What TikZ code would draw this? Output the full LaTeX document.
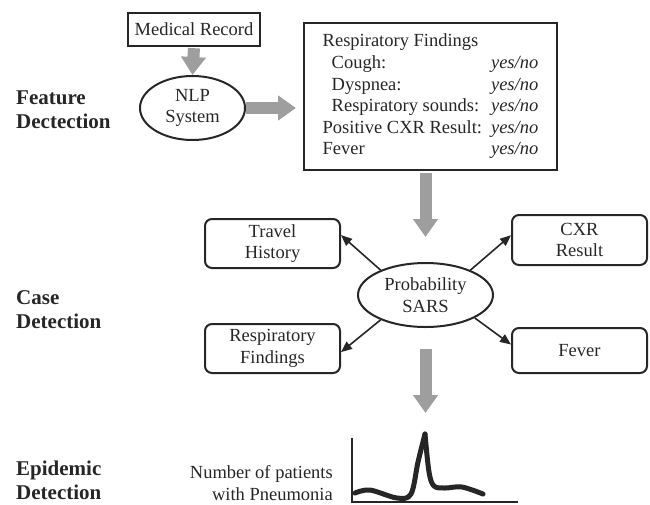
\documentclass[tikz,border=0pt]{standalone}
\usepackage{fontspec}
\setmainfont{Liberation Serif}
\usetikzlibrary{shapes.geometric,arrows.meta}
\definecolor{arrgray}{RGB}{158,158,158}
\begin{document}
\begin{tikzpicture}[x=1pt,y=-1pt,
  every node/.style={font=\fontsize{18.5}{21.6}\selectfont, inner sep=0pt, text=black!85},
  sqbox/.style={draw=black!85, line width=2.4pt, align=center},
  rbox/.style={draw=black!85, line width=2pt, rounded corners=7pt, minimum width=135pt, align=center},
  ovalnode/.style={draw=black!85, line width=2pt, ellipse, align=center},
  stagelabel/.style={font=\fontsize{21}{24}\selectfont\bfseries, align=left, anchor=west},
  bigarrow/.style={draw=arrgray, line width=12pt, -{Triangle[width=24pt,length=18pt]}},
  thinarrow/.style={draw=black!85, line width=1.6pt, -{Triangle[width=9pt,length=11pt]}}
]
\useasboundingbox (0,0) rectangle (650,504);

% stage labels
\node[stagelabel] (lf) at (16,110) {Feature\\Dectection};
\node[stagelabel] (lc) at (16,309.5) {Case\\Detection};
\node[stagelabel] (le) at (16,480) {Epidemic\\Detection};

% feature detection
\node[sqbox, minimum width=132pt, minimum height=33pt] (mr) at (194,29.5) {Medical Record};
\node[ovalnode, minimum width=105pt, minimum height=64pt] (nlp) at (192.5,108) {NLP\\System};
\node[sqbox, line width=2pt, minimum width=253pt, minimum height=147pt] (feat) at (430.5,96.5)
  {\begin{tabular}{@{}l@{\hspace{9pt}}r@{}}
   Respiratory Findings & \\
   \hspace{9pt}Cough: & \textit{yes/no}\\
   \hspace{9pt}Dyspnea: & \textit{yes/no}\\
   \hspace{9pt}Respiratory sounds:\hspace{-6pt} & \textit{yes/no}\hspace{5pt}\\
   Positive CXR Result: & \textit{yes/no}\\
   Fever & \textit{yes/no}
   \end{tabular}};

\draw[bigarrow, shorten <=1pt] (mr.south) -- (nlp.north);
\draw[bigarrow, shorten >=7pt] (nlp.east) -- (feat.west |- nlp.east);

% case detection
\node[ovalnode, minimum width=135pt, minimum height=64pt] (prob) at (425.5,295) {Probability\\SARS};
\node[rbox, minimum height=49pt] (travel) at (272.5,243.5) {Travel\\History};
\node[rbox, minimum height=50pt] (cxr) at (579.5,240) {CXR\\Result};
\node[rbox, minimum height=49pt] (resp) at (272.5,348.5) {Respiratory\\Findings};
\node[rbox, minimum height=45pt] (fever) at (579.5,350.5) {Fever};

\draw[bigarrow, shorten <=2pt, shorten >=25pt] (feat.south -| prob.north) -- (prob.north);

\draw[thinarrow] (prob.151) -- (travel.7);
\draw[thinarrow] (prob.29) -- (cxr.176);
\draw[thinarrow] (prob.209) -- (resp.-3);
\draw[thinarrow] (prob.335) -- (fever.175);

% epidemic detection
\coordinate (origin) at (352,502);
\coordinate (ytop) at (352,438);
\coordinate (xend) at (518,502);
\coordinate (peak) at (425.5,434);
\draw[black!85, line width=1.4pt] (ytop) -- (origin) -- (xend);
\draw[black!85, line width=5pt, line cap=round, line join=round]
  plot[smooth, tension=0.55] coordinates {(355,493) (370,490) (397,498) (411,494) (418,462) (425,434)};
\draw[black!85, line width=5pt, line cap=round, line join=round]
  plot[smooth, tension=0.55] coordinates {(425,434) (429,472) (434,486) (445,488) (462,487) (483,494)};
\draw[bigarrow, shorten <=21pt, shorten >=21pt] (prob.south) -- (peak);

\node[align=right, anchor=east] (lab) at (333,483) {Number of patients\\with Pneumonia};
\end{tikzpicture}
\end{document}
